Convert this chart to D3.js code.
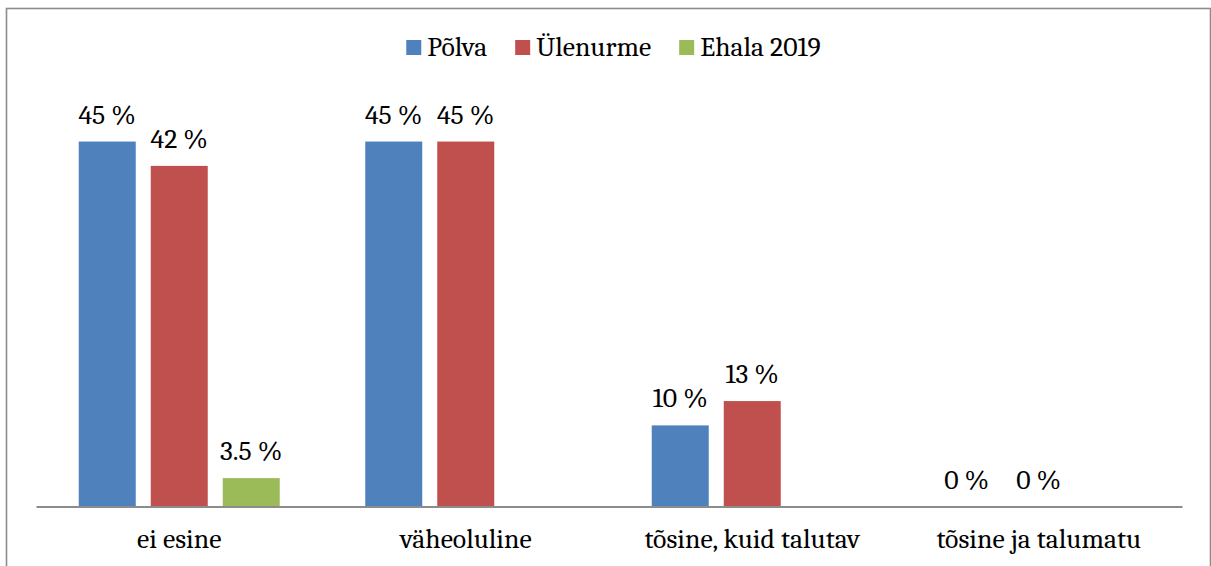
<!DOCTYPE html>
<html>
<head>
<meta charset="utf-8">
<script src="https://cdn.jsdelivr.net/npm/d3@7"></script>
<style>
  html, body { margin: 0; padding: 0; background: #fff; }
  svg { display: block; }
  text { font-family: Cambria, Caladea, "Liberation Serif", serif; fill: #000; }
</style>
</head>
<body>
<svg id="chart" width="1211" height="566"></svg>
<script>
const categories = ["ei esine", "väheoluline", "tõsine, kuid talutav", "tõsine ja talumatu"];
const seriesNames = ["Põlva", "Ülenurme", "Ehala 2019"];
const polva = [45, 45, 10, 0];
const ylenurme = [42, 45, 13, 0];
const ehala = [3.5, null, null, null];
const colors = ["#4F81BD", "#C0504D", "#9BBB59"];

const seriesValues = [polva, ylenurme, ehala];
const FONT = "Cambria, Caladea, 'Liberation Serif', serif";
const FS = "27.7px";
const svg = d3.select("#chart");

// outer border
svg.append("rect")
  .attr("x", 6.5).attr("y", 8.5)
  .attr("width", 1204).attr("height", 600)
  .attr("fill", "#fff").attr("stroke", "#8c8c8c").attr("stroke-width", 1.6);

const x0 = d3.scaleBand().domain(categories).range([36, 1182]).padding(0);
const groupW = 201;
const x1 = d3.scaleBand().domain(seriesNames)
  .range([(x0.bandwidth() - groupW) / 2, (x0.bandwidth() + groupW) / 2])
  .paddingInner(30 / 144).paddingOuter(0);
const y = d3.scaleLinear().domain([0, 50]).range([506.5, 101]);

const data = [];
categories.forEach((c, i) => {
  seriesNames.forEach((s, j) => {
    const v = seriesValues[j][i];
    if (v !== null && v !== undefined) data.push({ c, s, v, j });
  });
});

const g = svg.append("g");
g.selectAll("rect.bar").data(data).enter().append("rect")
  .attr("class", "bar")
  .attr("x", d => x0(d.c) + x1(d.s))
  .attr("y", d => y(d.v))
  .attr("width", x1.bandwidth())
  .attr("height", d => y(0) - y(d.v))
  .attr("fill", d => colors[d.j]);

const fmt = v => String(v) + " %";
g.selectAll("text.val").data(data).enter().append("text")
  .attr("class", "val")
  .attr("x", d => x0(d.c) + x1(d.s) + x1.bandwidth() / 2)
  .attr("y", d => y(d.v) - 18)
  .attr("text-anchor", "middle")
  .style("font-family", FONT)
  .style("font-size", FS)
  .text(d => fmt(d.v));

// x axis
const xAxis = d3.axisBottom(x0).tickSize(0).tickPadding(0);
const ax = svg.append("g").attr("transform", `translate(0,${y(0)})`).call(xAxis);
ax.attr("font-family", null).attr("font-size", null);
ax.select(".domain").attr("stroke", "#8c8c8c").attr("stroke-width", 2.2);
ax.selectAll(".tick text")
  .attr("dy", null)
  .attr("y", 41.5)
  .style("font-size", FS)
  .style("font-family", FONT)
  .attr("fill", "#000");

// legend
const leg = svg.append("g");
const items = leg.selectAll("g.item").data(seriesNames).enter().append("g").attr("class", "item");
items.append("rect").attr("width", 15).attr("height", 15).attr("y", 40)
  .attr("fill", (d, i) => colors[i]);
items.append("text").attr("x", 21).attr("y", 56)
  .style("font-family", FONT)
  .style("font-size", FS).text(d => d);
let cx = 0;
const gap = 28;
items.each(function () {
  const tw = d3.select(this).select("text").node().getComputedTextLength();
  d3.select(this).attr("transform", `translate(${cx},0)`);
  cx += 21 + tw + gap;
});
const totalW = cx - gap;
leg.attr("transform", `translate(${613.5 - totalW / 2},0)`);
</script>
</body>
</html>
